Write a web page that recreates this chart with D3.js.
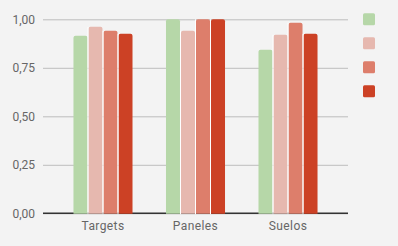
<!DOCTYPE html>
<html><head><meta charset="utf-8">
<script src="https://cdn.jsdelivr.net/npm/d3@7"></script>
<style>html,body{margin:0;padding:0;background:#f3f3f3;}svg{display:block;font-family:Roboto,sans-serif;}</style>
</head><body><svg id="c" width="398" height="246"></svg>
<script>
const categories = ["Targets", "Paneles", "Suelos"];
const seriesNames = ["", "", "", ""];
const seriesColors = ["#b6d7a8", "#e6b8af", "#dd7e6b", "#cc4125"];
const s1 = [0.915, 1.00, 0.843];
const s2 = [0.961, 0.941, 0.920];
const s3 = [0.941, 1.00, 0.982];
const s4 = [0.925, 1.00, 0.925];
const yTicks = [0, 0.25, 0.5, 0.75, 1.0];
const seriesValues = [s1, s2, s3, s4];

(function(){
const svg = d3.select("#c");
svg.append("rect").attr("width",398).attr("height",246).attr("fill","#f3f3f3");
const pl = 43, pr = 348, pt = 19.3, pb = 213.3;
const x = d3.scaleBand().domain(categories).range([pl, pr]).paddingInner(0.351).paddingOuter(0.324);
const xs = d3.scaleBand().domain(d3.range(seriesValues.length)).range([0, x.bandwidth()]);
const y = d3.scaleLinear().domain([0, 1]).range([pb, pt]);

const fmt = d => d3.format(".2f")(d).replace(".", ",");
const yAxis = svg.append("g").attr("transform", `translate(${pl},0)`)
  .call(d3.axisLeft(y).tickValues(yTicks).tickSize(-(pr-pl)).tickFormat(fmt));
yAxis.select(".domain").remove();
yAxis.selectAll(".tick line").attr("stroke", "#bdbdbd").attr("stroke-width", 1);
yAxis.selectAll(".tick text").attr("x", -8).attr("fill", "#666").attr("font-size", 12).attr("font-family","Roboto, sans-serif");

const r = 2;
function barPath(x0, w, y0, y1) {
  return `M${x0},${y1}V${y0+r}Q${x0},${y0} ${x0+r},${y0}H${x0+w-r}Q${x0+w},${y0} ${x0+w},${y0+r}V${y1}Z`;
}
const data = [];
categories.forEach((c, i) => seriesValues.forEach((s, j) => data.push({c, j, v: s[i]})));

svg.append("line").attr("x1", pl).attr("x2", pr).attr("y1", pb).attr("y2", pb)
  .attr("stroke", "#333").attr("stroke-width", 1.5);

svg.append("g").selectAll("path").data(data).join("path")
  .attr("d", d => barPath(x(d.c) + xs(d.j) + 0.5, xs.bandwidth() - 1, y(d.v), pb + 0.5))
  .attr("fill", d => seriesColors[d.j]);

data.forEach(d => {
  const xx = x(d.c) + xs(d.j);
  if (d.j > 0) svg.append("line").attr("x1", xx).attr("x2", xx).attr("y1", y(d.v)).attr("y2", pb+1).attr("stroke","#fff").attr("stroke-width",1);
});

const xAxis = svg.append("g").attr("transform", `translate(0,${pb})`)
  .call(d3.axisBottom(x).tickSize(0).tickPadding(8));
xAxis.select(".domain").remove();
xAxis.selectAll("text").attr("fill", "#666").attr("font-size", 12).attr("font-family","Roboto, sans-serif").attr("letter-spacing", 0.4);

const lg = svg.append("g").attr("transform", "translate(363,13.3)");
seriesNames.forEach((n, i) => {
  lg.append("rect").attr("x", 0).attr("y", i*24).attr("width", 12).attr("height", 12).attr("rx", 1.5)
    .attr("fill", seriesColors[i]);
  lg.append("text").attr("x", 18).attr("y", i*24+10).attr("font-size", 12).attr("fill","#222").text(n);
});
})();
</script></body></html>
